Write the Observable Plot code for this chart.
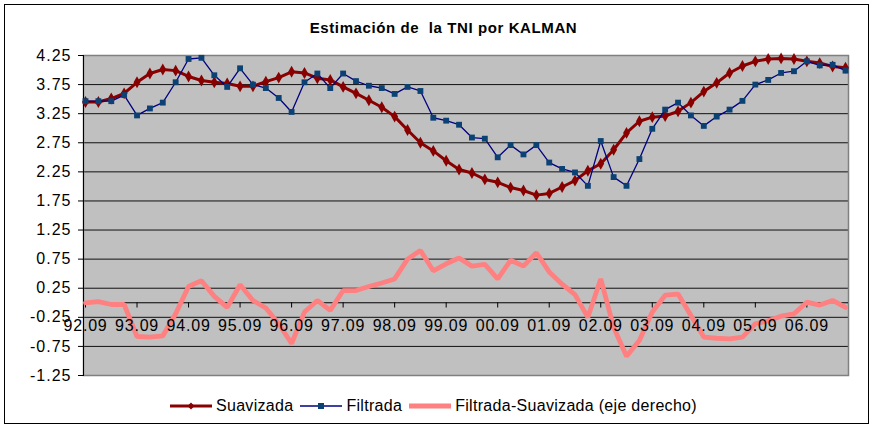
<!DOCTYPE html>
<html>
<head>
<meta charset="utf-8">
<script src="https://cdn.jsdelivr.net/npm/d3@7"></script>
<script src="https://cdn.jsdelivr.net/npm/@observablehq/plot@0.6"></script>
<style>
  html, body { margin: 0; padding: 0; background: #fff; }
  #chart { position: relative; width: 875px; height: 429px; background: #fff; overflow: hidden;
           font-family: "Liberation Sans", Arial, sans-serif; }
  #border { position: absolute; left: 4px; top: 4px; width: 865px; height: 420px; border: 1px solid #000; box-sizing: border-box; }
  #title { position: absolute; left: 6px; top: 19px; width: 875px; text-align: center; font-weight: bold;
           font-size: 15px; letter-spacing: 0.6px; line-height: 18px; color: #000; }
  #plot { position: absolute; left: 0; top: 45px; }
  #legend { position: absolute; left: 170px; top: 396px; height: 20px; display: flex; align-items: center;
            font-size: 16px; letter-spacing: 0.3px; color: #000; white-space: nowrap; }
  #legend .item { display: flex; align-items: center; margin-right: 7px; }
  #legend svg { margin-right: 4px; }
  #plot text { letter-spacing: 1px; }
  #plot g.xlab text { letter-spacing: 0.8px; }
</style>
</head>
<body>
<div id="chart">
  <div id="border"></div>
  <div id="title">Estimación de&nbsp; la TNI por KALMAN</div>
  <div id="plot"></div>
  <div id="legend"></div>
</div>
<script>
// Quarterly categories
const categories = [
  "92.09","92.12",
  "93.03","93.06","93.09","93.12",
  "94.03","94.06","94.09","94.12",
  "95.03","95.06","95.09","95.12",
  "96.03","96.06","96.09","96.12",
  "97.03","97.06","97.09","97.12",
  "98.03","98.06","98.09","98.12",
  "99.03","99.06","99.09","99.12",
  "00.03","00.06","00.09","00.12",
  "01.03","01.06","01.09","01.12",
  "02.03","02.06","02.09","02.12",
  "03.03","03.06","03.09","03.12",
  "04.03","04.06","04.09","04.12",
  "05.03","05.06","05.09","05.12",
  "06.03","06.06","06.09","06.12",
  "07.03","07.06"
];

const tickLabels = ["92.09","93.09","94.09","95.09","96.09","97.09","98.09","99.09",
                    "00.09","01.09","02.09","03.09","04.09","05.09","06.09"];

const yTicks = [-1.25,-0.75,-0.25,0.25,0.75,1.25,1.75,2.25,2.75,3.25,3.75,4.25];

const suavizada = [3.45,3.45,3.51,3.60,3.79,3.94,4.01,3.99,3.89,3.82,
                   3.79,3.77,3.72,3.72,3.80,3.87,3.97,3.95,3.86,3.83,
                   3.71,3.60,3.48,3.36,3.20,2.97,2.75,2.61,2.44,2.29,
                   2.23,2.12,2.07,1.98,1.93,1.85,1.88,1.99,2.10,2.27,
                   2.39,2.63,2.92,3.12,3.19,3.21,3.29,3.44,3.63,3.78,
                   3.95,4.07,4.15,4.19,4.20,4.19,4.15,4.12,4.06,4.04];

const filtrada = [3.465,3.465,3.465,3.57,3.22,3.34,3.44,3.79,4.19,4.21,
                  3.91,3.71,4.03,3.75,3.69,3.52,3.28,3.79,3.94,3.69,
                  3.94,3.81,3.73,3.69,3.59,3.71,3.64,3.18,3.13,3.06,
                  2.84,2.82,2.50,2.71,2.55,2.71,2.41,2.30,2.24,2.01,
                  2.78,2.16,2.01,2.47,2.99,3.32,3.44,3.22,3.04,3.20,
                  3.32,3.47,3.75,3.83,3.95,3.98,4.15,4.08,4.09,3.99];

const diferencia = [0.00,0.02,-0.03,-0.03,-0.58,-0.59,-0.57,-0.19,0.28,0.38,
                    0.11,-0.08,0.31,0.04,-0.09,-0.36,-0.70,-0.16,0.04,-0.13,
                    0.21,0.21,0.28,0.34,0.41,0.75,0.90,0.55,0.67,0.77,
                    0.63,0.66,0.41,0.73,0.63,0.86,0.53,0.32,0.14,-0.25,
                    0.41,-0.42,-0.92,-0.65,-0.16,0.13,0.15,-0.22,-0.59,-0.61,
                    -0.62,-0.59,-0.36,-0.31,-0.23,-0.19,0.01,-0.04,0.04,-0.08];

const seriesNames = ["Suavizada","Filtrada","Filtrada-Suavizada (eje derecho)"];
const colRed = "#880000", colBlue = "#000080", colSq = "#0c4174", colPink = "#ff8080";

const rows = categories.map((c, i) => ({i, c, s: suavizada[i], f: filtrada[i], d: diferencia[i]}));
const tickIdx = tickLabels.map(t => categories.indexOf(t));

const chart = Plot.plot({
  width: 875,
  height: 330,
  marginLeft: 83,
  marginRight: 27,
  marginTop: 10,
  marginBottom: 0,
  style: {fontFamily: "'Liberation Sans', Arial, sans-serif", fontSize: "16px", background: "transparent", overflow: "visible"},
  x: {domain: [0, categories.length - 1], insetLeft: 2, insetRight: 3, axis: null},
  y: {domain: [-1.25, 4.25]},
  marks: [
    Plot.frame({fill: "#c0c0c0", stroke: null}),
    Plot.ruleY(yTicks, {stroke: "#111", strokeWidth: 1}),
    Plot.frame({stroke: "#808080", strokeWidth: 1.5}),
    Plot.frame({anchor: "left", stroke: "#000", strokeWidth: 1}),
    Plot.axisY(yTicks, {tickFormat: d => d.toFixed(2), tickSize: 5, tickPadding: 7, fontSize: 16, label: null, stroke: "#000", fill: "#000"}),
    Plot.ruleY([0], {stroke: "#000", strokeWidth: 1}),
    Plot.ruleX(tickIdx, {x: d => d, y1: 0, y2: -0.09, stroke: "#000"}),
    Plot.line(rows, {x: "i", y: "s", stroke: colRed, strokeWidth: 3}),
    Plot.dot(rows, {x: "i", y: "s", symbol: "diamond", r: 3.6, fill: colRed, stroke: null}),
    Plot.line(rows, {x: "i", y: "f", stroke: colBlue, strokeWidth: 1.3}),
    Plot.dot(rows, {x: "i", y: "f", symbol: "square", r: 3.3, fill: colSq, stroke: null}),
    Plot.line(rows, {x: "i", y: "d", stroke: colPink, strokeWidth: 4.8, strokeLinejoin: "miter"}),
    Plot.text(tickLabels, {x: d => categories.indexOf(d), y: 0, text: d => d, dy: 23, fontSize: 16, fill: "#000", className: "xlab"})
  ]
});
document.getElementById("plot").appendChild(chart);

// Legend
const legend = document.getElementById("legend");
const samples = [
  `<svg width="42" height="10"><line x1="0" y1="5" x2="42" y2="5" stroke="${colRed}" stroke-width="3"/><path d="M21,1.5 L24.5,5 L21,8.5 L17.5,5 Z" fill="${colRed}"/></svg>`,
  `<svg width="42" height="10"><line x1="0" y1="5" x2="42" y2="5" stroke="${colBlue}" stroke-width="1.3"/><rect x="18" y="2" width="6" height="6" fill="${colSq}"/></svg>`,
  `<svg width="42" height="10"><line x1="0" y1="5" x2="42" y2="5" stroke="${colPink}" stroke-width="4.8"/></svg>`
];
seriesNames.forEach((name, k) => {
  const item = document.createElement("div");
  item.className = "item";
  item.innerHTML = samples[k] + `<span>${name}</span>`;
  legend.appendChild(item);
});
</script>
</body>
</html>
